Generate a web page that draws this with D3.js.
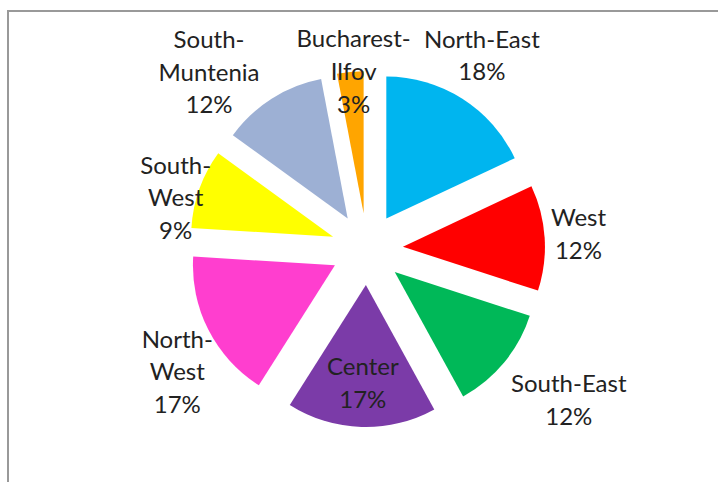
<!DOCTYPE html>
<html>
<head>
    <title>Regions pie</title>
    <style>
        body { margin: 0; background: #fff; }
        .frame { fill: none; stroke: #999; stroke-width: 2px; }
        .label { font-family: Lato, "Open Sans", sans-serif; font-size: 24px; fill: #222; }
    </style>
    <script src="https://d3js.org/d3.v7.min.js"></script>
</head>
<body>
    <svg width="718" height="482"></svg>
    <script>
        const regions = ["North-East", "West", "South-East", "Center", "North-West", "South-West", "South-Muntenia", "Bucharest-Ilfov"];
        const shares = [18, 12, 12, 17, 17, 9, 12, 3];
        const colors = ["#00B5EF", "#FF0000", "#00B858", "#7B3BA8", "#FF3ECF", "#FFFF00", "#9DB0D4", "#FFA500"];
        // names that Excel broke after the hyphen
        const wrapped = ["North-West", "South-West", "South-Muntenia", "Bucharest-Ilfov"];

        // label placement: distance from pie centre and turn off the slice mid-angle (deg)
        const labelDist = [225, 212, 252, 134, 226, 198, 237, 178];
        const labelTurn = [-1.7, -0.5, -2.8, 0, -5.9, -4.9, -9.4, 1.1];

        const svg = d3.select("svg");
        const cx = 367, cy = 249, radius = 142, explode = 36, lineH = 32.6;

        // chart area border (cut off at right and bottom)
        svg.append("rect").attr("class", "frame")
            .attr("x", 8).attr("y", 11).attr("width", 730).attr("height", 500);

        const pie = d3.pie().sort(null).value(d => d);
        const arcs = pie(shares);
        const arc = d3.arc().innerRadius(0).outerRadius(radius);
        const g = svg.append("g").attr("transform", `translate(${cx},${cy})`);

        const mid = d => (d.startAngle + d.endAngle) / 2;

        // Draw slices, pushed out along their mid-angle
        g.selectAll(".slice")
            .data(arcs)
            .enter()
            .append("path")
            .attr("class", "slice")
            .attr("d", arc)
            .attr("fill", (d, i) => colors[i])
            .attr("transform", d => `translate(${explode * Math.sin(mid(d))},${-explode * Math.cos(mid(d))})`);

        // Add labels
        const labels = g.selectAll(".label")
            .data(arcs)
            .enter()
            .append("text")
            .attr("class", "label")
            .attr("text-anchor", "middle")
            .attr("transform", (d, i) => {
                const a = mid(d) + labelTurn[i] * Math.PI / 180;
                return `translate(${labelDist[i] * Math.sin(a)},${-labelDist[i] * Math.cos(a)})`;
            });

        labels.each(function (d, i) {
            const name = regions[i];
            const lines = wrapped.includes(name)
                ? [name.slice(0, name.indexOf("-") + 1), name.slice(name.indexOf("-") + 1)]
                : [name];
            lines.push(shares[i] + "%");
            const t = d3.select(this);
            lines.forEach((s, k) => {
                t.append("tspan")
                    .attr("x", 0)
                    .attr("y", (k - (lines.length - 1) / 2) * lineH)
                    .attr("dy", "0.35em")
                    .text(s);
            });
        });
    </script>
</body>
</html>
